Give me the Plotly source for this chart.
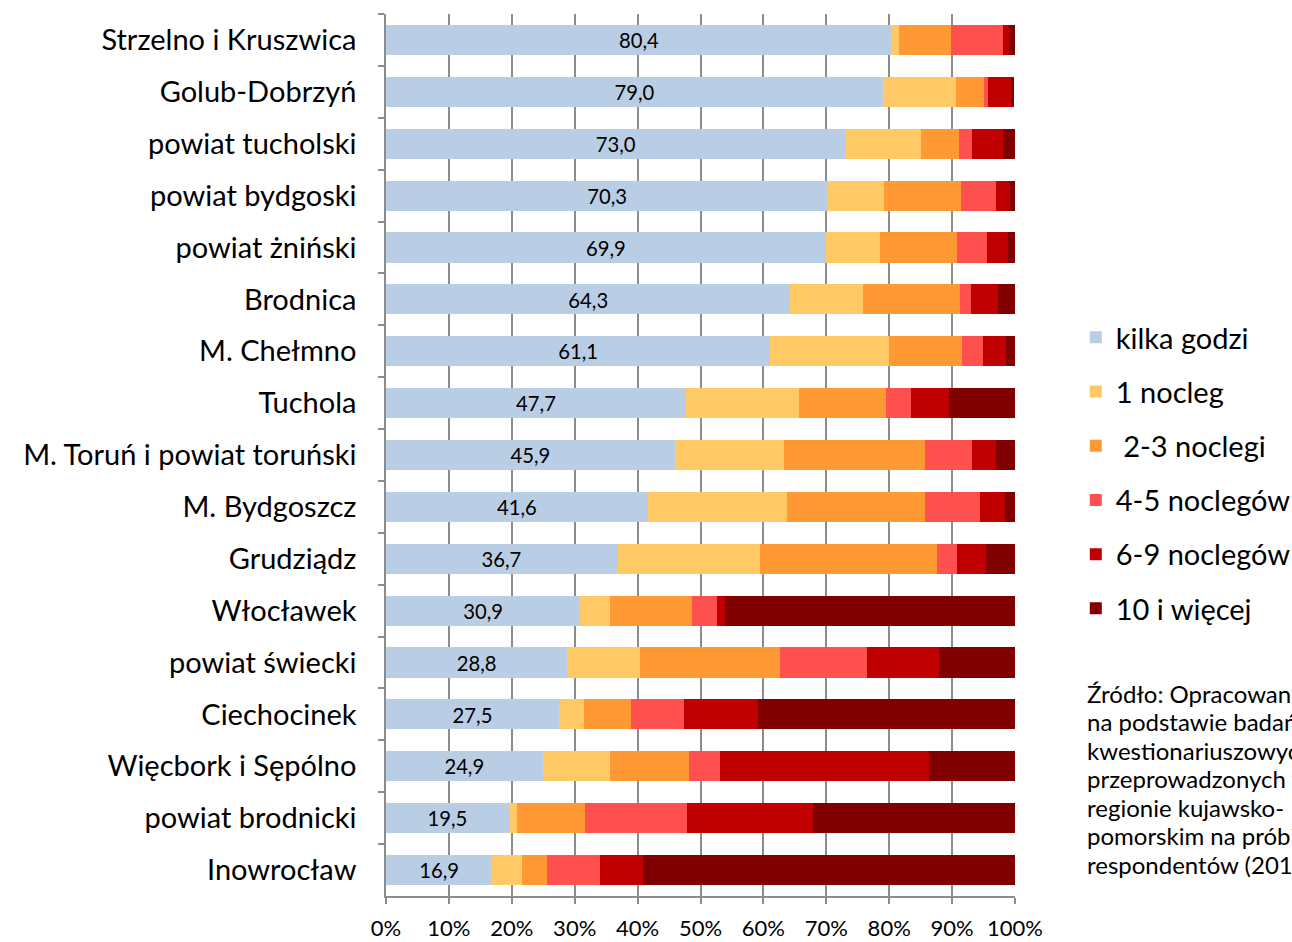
import plotly.graph_objects as go

categories = ["Strzelno i Kruszwica", "Golub-Dobrzyń", "powiat tucholski", "powiat bydgoski",
              "powiat żniński", "Brodnica", "M. Chełmno", "Tuchola", "M. Toruń i powiat toruński",
              "M. Bydgoszcz", "Grudziądz", "Włocławek", "powiat świecki", "Ciechocinek",
              "Więcbork i Sępólno", "powiat brodnicki", "Inowrocław"]

kilka_godzin = [80.4, 79.0, 73.0, 70.3, 69.9, 64.3, 61.1, 47.7, 45.9, 41.6, 36.7, 30.9, 28.8, 27.5, 24.9, 19.5, 16.9]
nocleg_1 = [1.2, 11.6, 12.1, 8.9, 8.7, 11.6, 18.9, 18.0, 17.3, 22.2, 22.8, 4.7, 11.6, 4.0, 10.7, 1.4, 4.7]
noclegi_2_3 = [8.2, 4.4, 6.0, 12.2, 12.2, 15.3, 11.6, 13.8, 22.5, 21.9, 28.1, 13.0, 22.3, 7.5, 12.6, 10.7, 4.0]
noclegow_4_5 = [8.3, 0.7, 2.0, 5.5, 4.8, 1.8, 3.3, 4.0, 7.4, 8.7, 3.2, 4.1, 13.7, 8.4, 4.9, 16.2, 8.4]
noclegow_6_9 = [0.9, 3.6, 5.0, 2.3, 3.3, 4.3, 3.7, 6.0, 3.8, 4.0, 4.6, 1.2, 11.5, 11.7, 33.2, 20.1, 6.8]
wiecej_10 = [1.0, 0.6, 1.9, 0.8, 1.1, 2.7, 1.4, 10.5, 3.1, 1.6, 4.6, 46.1, 12.1, 40.9, 13.7, 32.1, 59.2]

series_names = ["kilka godzi", "1 nocleg", " 2-3 noclegi", "4-5 noclegów", "6-9 noclegów", "10 i więcej"]
series_values = [kilka_godzin, nocleg_1, noclegi_2_3, noclegow_4_5, noclegow_6_9, wiecej_10]
colors = ["#B9CDE5", "#FFC966", "#FF9933", "#FF5050", "#C00000", "#800000"]

x_ticks = [0, 10, 20, 30, 40, 50, 60, 70, 80, 90, 100]
x_tick_labels = [f"{v}%" for v in x_ticks]

source_lines = ["Źródło: Opracowanie własne", "na podstawie badań", "kwestionariuszowych",
                "przeprowadzonych w", "regionie kujawsko-", "pomorskim na próbie",
                "respondentów (2012)"]

FONT = "Lato, 'Open Sans', sans-serif"
W, H = 1292, 942
PL, PR, PT, PB = 386, 1015, 14, 896
PW, PH = PR - PL, PB - PT


def px_x(sx):
    return (sx - PL) / PW


def px_y(sy):
    return (PB - sy) / PH


fig = go.Figure()
for i, (name, vals, col) in enumerate(zip(series_names, series_values, colors)):
    kw = {}
    if i == 0:
        kw = dict(text=[f"{v:.1f}".replace(".", ",") for v in vals],
                  textposition="inside", insidetextanchor="middle",
                  textfont=dict(size=21, color="black", family=FONT),
                  textangle=0)
    fig.add_trace(go.Bar(
        y=categories, x=vals, name=name, orientation="h",
        marker=dict(color=col, line=dict(width=0)),
        legendgroup=f"g{i}", hoverinfo="x+y+name", **kw))

fig.update_layout(
    barmode="stack",
    bargap=0.42,
    width=W, height=H,
    margin=dict(l=PL, r=W - PR, t=PT, b=H - PB, autoexpand=False),
    paper_bgcolor="white", plot_bgcolor="white",
    font=dict(family=FONT, size=29, color="black"),
    uniformtext=dict(minsize=8, mode="show"),
    legend=dict(x=px_x(1089) - 0.021, xanchor="left", y=px_y(473), yanchor="middle",
                traceorder="grouped", tracegroupgap=13.5,
                font=dict(size=29, family=FONT), itemwidth=30,
                bgcolor="rgba(0,0,0,0)"),
    showlegend=True,
)
fig.update_xaxes(
    range=[0, 100], tickvals=x_ticks, ticktext=x_tick_labels,
    showgrid=True, gridcolor="#8C8C8C", gridwidth=1.5,
    showline=True, linecolor="#8C8C8C", linewidth=1.5,
    ticks="outside", ticklen=6, tickcolor="#8C8C8C", tickwidth=1.5,
    ticklabelstandoff=6,
    tickfont=dict(size=22, family=FONT), zeroline=False, automargin=False,
)
fig.update_yaxes(
    autorange="reversed", showgrid=False,
    showline=True, linecolor="#8C8C8C", linewidth=1.5,
    ticks="outside", ticklen=6, tickcolor="#8C8C8C", tickwidth=1.5,
    tickson="boundaries", ticklabelstandoff=22,
    tickfont=dict(size=29, family=FONT), automargin=False,
)

for k, line in enumerate(source_lines):
    fig.add_annotation(
        xref="paper", yref="paper", x=px_x(1087) - 0.003, y=px_y(693 + 28.5 * k),
        xanchor="left", yanchor="middle", align="left", showarrow=False,
        text=line, font=dict(size=24, family=FONT, color="black"),
    )

fig.write_html(
    "out.html",
    config={"displayModeBar": False},
    post_script="document.body.style.margin='0px';document.body.style.overflow='hidden';",
)
